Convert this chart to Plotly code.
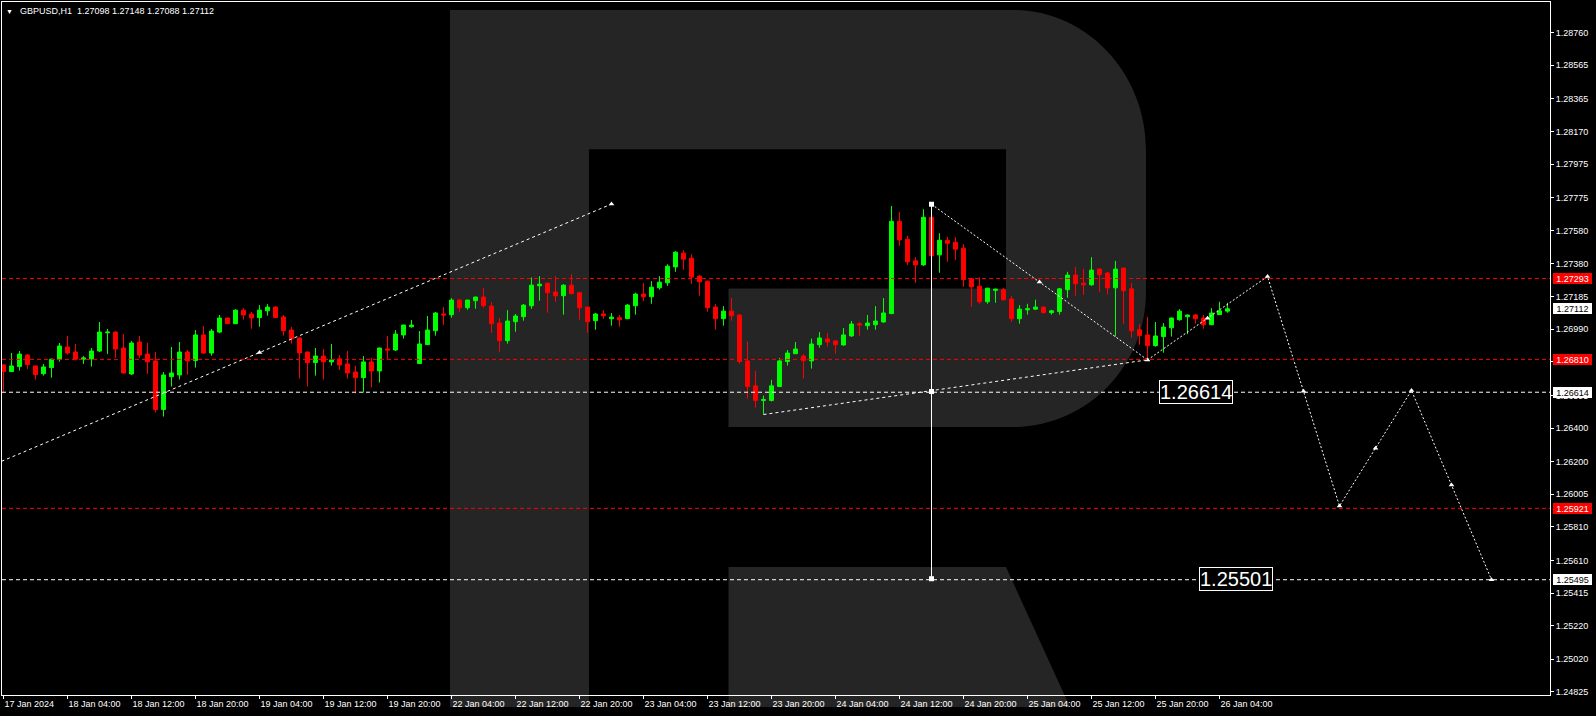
import plotly.graph_objects as go
import numpy as np

# ---------------- data ----------------
open_ = [1.26777, 1.26737, 1.26767, 1.26836, 1.26771, 1.26725, 1.26761, 1.26811, 1.26884, 1.26854,
         1.26811, 1.26813, 1.26860, 1.26969, 1.26973, 1.26878, 1.26723, 1.26914, 1.26842, 1.26801,
         1.26511, 1.26707, 1.26717, 1.26854, 1.26803, 1.26956, 1.26848, 1.26973, 1.27057, 1.27023,
         1.27104, 1.27081, 1.27059, 1.27100, 1.27122, 1.27063, 1.26985, 1.26938, 1.26854, 1.26791,
         1.26830, 1.26795, 1.26813, 1.26783, 1.26735, 1.26701, 1.26795, 1.26741, 1.26872, 1.26866,
         1.26956, 1.27005, 1.26785, 1.26898, 1.26981, 1.27081, 1.27077, 1.27164, 1.27118, 1.27160,
         1.27182, 1.27128, 1.27027, 1.26922, 1.27035, 1.27065, 1.27130, 1.27249, 1.27265, 1.27212,
         1.27190, 1.27253, 1.27208, 1.27122, 1.27041, 1.27081, 1.27053, 1.27059, 1.27053, 1.27130,
         1.27200, 1.27184, 1.27237, 1.27267, 1.27362, 1.27444, 1.27414, 1.27307, 1.27277, 1.27122,
         1.27053, 1.27098, 1.27075, 1.26801, 1.26652, 1.26565, 1.26565, 1.26648, 1.26797, 1.26844,
         1.26830, 1.26801, 1.26898, 1.26932, 1.26920, 1.26896, 1.26950, 1.27023, 1.27011, 1.27017,
         1.27033, 1.27083, 1.27634, 1.27527, 1.27398, 1.27374, 1.27658, 1.27434, 1.27521, 1.27509,
         1.27474, 1.27291, 1.27247, 1.27154, 1.27222, 1.27226, 1.27170, 1.27053, 1.27106, 1.27110,
         1.27122, 1.27089, 1.27096, 1.27226, 1.27313, 1.27265, 1.27255, 1.27349, 1.27325, 1.27237,
         1.27355, 1.27231, 1.26987, 1.26956, 1.26892, 1.26946, 1.26999, 1.27047, 1.27065, 1.27075,
         1.27057, 1.27017, 1.27077, 1.27098]
high = [1.26782, 1.26848, 1.26860, 1.26842, 1.26773, 1.26783, 1.26815, 1.26908, 1.26950, 1.26902,
        1.26830, 1.26878, 1.27033, 1.26991, 1.26979, 1.26961, 1.26920, 1.26950, 1.26908, 1.26854,
        1.26735, 1.26884, 1.26914, 1.26866, 1.26985, 1.27009, 1.26991, 1.27075, 1.27059, 1.27110,
        1.27116, 1.27093, 1.27134, 1.27140, 1.27128, 1.27075, 1.27003, 1.26940, 1.26856, 1.26878,
        1.26872, 1.26902, 1.26836, 1.26860, 1.26771, 1.26830, 1.26819, 1.26880, 1.26950, 1.26985,
        1.27017, 1.27045, 1.26979, 1.27069, 1.27093, 1.27122, 1.27176, 1.27170, 1.27166, 1.27184,
        1.27235, 1.27152, 1.27057, 1.27104, 1.27081, 1.27140, 1.27299, 1.27307, 1.27267, 1.27307,
        1.27259, 1.27319, 1.27214, 1.27124, 1.27087, 1.27104, 1.27087, 1.27075, 1.27140, 1.27208,
        1.27265, 1.27277, 1.27307, 1.27378, 1.27456, 1.27462, 1.27438, 1.27313, 1.27279, 1.27140,
        1.27128, 1.27176, 1.27077, 1.26916, 1.26741, 1.26594, 1.26688, 1.26819, 1.26866, 1.26914,
        1.26842, 1.26934, 1.26973, 1.26967, 1.26922, 1.26997, 1.27039, 1.27033, 1.27075, 1.27128,
        1.27176, 1.27726, 1.27688, 1.27547, 1.27420, 1.27706, 1.27736, 1.27563, 1.27541, 1.27539,
        1.27497, 1.27293, 1.27299, 1.27237, 1.27231, 1.27237, 1.27188, 1.27134, 1.27142, 1.27166,
        1.27124, 1.27106, 1.27237, 1.27333, 1.27362, 1.27349, 1.27420, 1.27351, 1.27333, 1.27398,
        1.27357, 1.27265, 1.27021, 1.27063, 1.27033, 1.27027, 1.27059, 1.27110, 1.27077, 1.27081,
        1.27075, 1.27116, 1.27154, 1.27148]
low = [1.26618, 1.26735, 1.26743, 1.26753, 1.26690, 1.26713, 1.26701, 1.26797, 1.26838, 1.26803,
       1.26783, 1.26767, 1.26854, 1.26842, 1.26819, 1.26725, 1.26717, 1.26819, 1.26723, 1.26493,
       1.26469, 1.26648, 1.26690, 1.26719, 1.26761, 1.26842, 1.26832, 1.26967, 1.27021, 1.27021,
       1.27047, 1.26993, 1.27005, 1.27071, 1.27057, 1.26952, 1.26904, 1.26696, 1.26648, 1.26713,
       1.26690, 1.26773, 1.26747, 1.26696, 1.26606, 1.26612, 1.26642, 1.26672, 1.26813, 1.26860,
       1.26934, 1.26999, 1.26783, 1.26896, 1.26952, 1.27017, 1.27059, 1.27095, 1.27106, 1.27112,
       1.27118, 1.26969, 1.26856, 1.26904, 1.26975, 1.27041, 1.27112, 1.27160, 1.27089, 1.27154,
       1.27077, 1.27200, 1.27047, 1.26969, 1.26987, 1.27053, 1.27011, 1.27005, 1.27051, 1.27077,
       1.27158, 1.27142, 1.27226, 1.27249, 1.27333, 1.27345, 1.27261, 1.27190, 1.27095, 1.26987,
       1.27011, 1.27041, 1.26785, 1.26576, 1.26523, 1.26481, 1.26559, 1.26646, 1.26773, 1.26842,
       1.26696, 1.26755, 1.26880, 1.26886, 1.26844, 1.26892, 1.26944, 1.26950, 1.26987, 1.26987,
       1.27029, 1.27081, 1.27488, 1.27374, 1.27267, 1.27368, 1.27400, 1.27327, 1.27392, 1.27404,
       1.27243, 1.27124, 1.27142, 1.27142, 1.27148, 1.27160, 1.27035, 1.27023, 1.27077, 1.27106,
       1.27083, 1.27077, 1.27077, 1.27178, 1.27190, 1.27196, 1.27249, 1.27214, 1.27198, 1.26946,
       1.27023, 1.26940, 1.26898, 1.26813, 1.26886, 1.26850, 1.26946, 1.27041, 1.26961, 1.27023,
       1.26993, 1.27015, 1.27075, 1.27088]
close = [1.26737, 1.26771, 1.26842, 1.26779, 1.26719, 1.26765, 1.26811, 1.26890, 1.26848, 1.26811,
         1.26819, 1.26860, 1.26973, 1.26973, 1.26872, 1.26729, 1.26908, 1.26836, 1.26795, 1.26511,
         1.26717, 1.26729, 1.26854, 1.26801, 1.26956, 1.26848, 1.26979, 1.27057, 1.27023, 1.27104,
         1.27075, 1.27057, 1.27104, 1.27122, 1.27059, 1.26981, 1.26932, 1.26848, 1.26791, 1.26830,
         1.26795, 1.26807, 1.26777, 1.26729, 1.26701, 1.26795, 1.26741, 1.26878, 1.26866, 1.26961,
         1.27015, 1.27015, 1.26902, 1.26985, 1.27087, 1.27075, 1.27164, 1.27118, 1.27164, 1.27182,
         1.27130, 1.27023, 1.26922, 1.27039, 1.27069, 1.27134, 1.27253, 1.27259, 1.27208, 1.27190,
         1.27253, 1.27202, 1.27118, 1.27035, 1.27081, 1.27071, 1.27063, 1.27047, 1.27134, 1.27200,
         1.27184, 1.27241, 1.27271, 1.27366, 1.27450, 1.27408, 1.27301, 1.27273, 1.27118, 1.27053,
         1.27098, 1.27071, 1.26797, 1.26648, 1.26565, 1.26570, 1.26652, 1.26801, 1.26848, 1.26872,
         1.26803, 1.26902, 1.26938, 1.26914, 1.26898, 1.26956, 1.27021, 1.27015, 1.27027, 1.27039,
         1.27087, 1.27634, 1.27523, 1.27392, 1.27374, 1.27658, 1.27428, 1.27521, 1.27503, 1.27468,
         1.27287, 1.27243, 1.27154, 1.27235, 1.27229, 1.27166, 1.27053, 1.27110, 1.27112, 1.27122,
         1.27089, 1.27100, 1.27231, 1.27313, 1.27261, 1.27255, 1.27343, 1.27315, 1.27237, 1.27349,
         1.27220, 1.26981, 1.26952, 1.26892, 1.26950, 1.27003, 1.27057, 1.27098, 1.27075, 1.27053,
         1.27017, 1.27087, 1.27100, 1.27112]

time_tick_bars = [0, 8, 16, 24, 32, 40, 48, 56, 64, 72, 80, 88, 96, 104, 112, 120, 128, 136, 144, 152]
time_tick_labels = ["17 Jan 2024", "18 Jan 04:00", "18 Jan 12:00", "18 Jan 20:00", "19 Jan 04:00",
                    "19 Jan 12:00", "19 Jan 20:00", "22 Jan 04:00", "22 Jan 12:00", "22 Jan 20:00",
                    "23 Jan 04:00", "23 Jan 12:00", "23 Jan 20:00", "24 Jan 04:00", "24 Jan 12:00",
                    "24 Jan 20:00", "25 Jan 04:00", "25 Jan 12:00", "25 Jan 20:00", "26 Jan 04:00"]

price_ticks = [1.24825, 1.25020, 1.25220, 1.25415, 1.25610, 1.25810, 1.26005, 1.26200, 1.26400,
               1.26595, 1.26795, 1.26990, 1.27185, 1.27380, 1.27580, 1.27775, 1.27975, 1.28170,
               1.28365, 1.28565, 1.28760]

red_levels = [1.27293, 1.26810, 1.25921]
white_levels = [1.26614, 1.25495]
last_price = 1.27112
title_text = "GBPUSD,H1  1.27098 1.27148 1.27088 1.27112"

# drawn analysis objects (bar index, price)
trend1_x = [-12, 76]
trend1_y = [1.25965, 1.27737]
trend_low_x = [95, 143]
trend_low_y = [1.26481, 1.26807]
trend_down_x = [116, 143]
trend_down_y = [1.27736, 1.26807]
forecast_x = [143, 158, 167, 176, 186]
forecast_y = [1.26807, 1.27305, 1.25935, 1.26625, 1.25495]
vline_x = 116
vline_y = [1.27736, 1.25501]
box_labels = [(149.1, 1.26614, "1.26614"), (154.1, 1.25501, "1.25501")]

# ---------------- styling ----------------
FONT = "Liberation Sans, Arial, sans-serif"
GREEN = "#00FF00"
RED = "#FF0000"
WM = "#252525"
W, H = 1596, 716
ML, MR, MT, MB = 2, 46, 2, 21
PW, PH = W - ML - MR, H - MT - MB
x_range = [-0.1875, 193.3125]
y_range = [1.24807, 1.28943]

def px(xp):
    return (xp - ML) / PW

def py(yp):
    return (H - MB - yp) / PH

fig = go.Figure()

fig.add_trace(go.Candlestick(
    x=list(range(len(open_))), open=open_, high=high, low=low, close=close,
    increasing=dict(line=dict(color=GREEN, width=1), fillcolor=GREEN),
    decreasing=dict(line=dict(color=RED, width=1), fillcolor=RED),
    whiskerwidth=0, hoverinfo="skip", showlegend=False))

def seg(xs, ys, dash, mids=True):
    fig.add_trace(go.Scatter(x=xs, y=ys, mode="lines", line=dict(color="white", width=1, dash=dash),
                             hoverinfo="skip", showlegend=False))
    mx = [(xs[i] + xs[i + 1]) / 2 for i in range(len(xs) - 1)] if mids else []
    my = [(ys[i] + ys[i + 1]) / 2 for i in range(len(ys) - 1)] if mids else []
    fig.add_trace(go.Scatter(x=mx + [xs[-1]] + xs[1:-1], y=my + [ys[-1]] + ys[1:-1], mode="markers",
                             marker=dict(symbol="triangle-up", size=5, color="white"),
                             hoverinfo="skip", showlegend=False))

seg(trend1_x, trend1_y, "3px,3px")
fig.add_trace(go.Scatter(x=trend_low_x, y=trend_low_y, mode="lines",
                         line=dict(color="white", width=1, dash="3px,3px"), hoverinfo="skip", showlegend=False))
seg(trend_down_x, trend_down_y, "2px,2px")
seg(forecast_x, forecast_y, "2px,2px")

fig.add_trace(go.Scatter(x=[vline_x, vline_x], y=vline_y, mode="lines", line=dict(color="white", width=1),
                         hoverinfo="skip", showlegend=False))
fig.add_trace(go.Scatter(x=[vline_x] * 3, y=[vline_y[0], float(np.mean(vline_y)), vline_y[1]], mode="markers",
                         marker=dict(symbol="square", size=5, color="white"), hoverinfo="skip", showlegend=False))

shapes = []
for lv in red_levels:
    shapes.append(dict(type="line", xref="paper", x0=0, x1=1, yref="y", y0=lv, y1=lv,
                       line=dict(color=RED, width=1, dash="4px,3px")))
for lv in white_levels:
    shapes.append(dict(type="line", xref="paper", x0=0, x1=1, yref="y", y0=lv, y1=lv,
                       line=dict(color="white", width=1, dash="4px,3px")))

# watermark "R" logo (decoration)
k = 0.5523
wm_path = (f"M {px(450)},{py(10)} L {px(1013)},{py(10)} "
           f"C {px(1013 + k * 133)},{py(10)} {px(1146)},{py(150 - k * 140)} {px(1146)},{py(150)} "
           f"L {px(1146)},{py(292)} "
           f"C {px(1146)},{py(292 + k * 135)} {px(1013 + k * 133)},{py(427)} {px(1013)},{py(427)} "
           f"L {px(728.5)},{py(427)} L {px(728.5)},{py(288.6)} L {px(1006)},{py(288.6)} "
           f"L {px(1006)},{py(149.3)} L {px(589)},{py(149.3)} L {px(589)},{py(707)} L {px(450)},{py(707)} Z")
leg_path = (f"M {px(728.5)},{py(567)} L {px(1006)},{py(567)} L {px(1070)},{py(707)} "
            f"L {px(728.5)},{py(707)} Z")
for p in (wm_path, leg_path):
    shapes.append(dict(type="path", xref="paper", yref="paper", path=p, fillcolor=WM,
                       line=dict(width=0), layer="below"))

annotations = []
for lv, bg, fg in [(red_levels[0], RED, "white"), (last_price, "white", "black"),
                   (red_levels[1], RED, "white"), (white_levels[0], "white", "black"),
                   (red_levels[2], RED, "white"), (white_levels[1], "white", "black")]:
    annotations.append(dict(x=1, xref="paper", xanchor="left", xshift=3, y=lv, yref="y",
                            text=f"{lv:.5f}", showarrow=False, bgcolor=bg, borderpad=0, borderwidth=0,
                            width=39, height=11, font=dict(color=fg, size=9, family=FONT)))
for bx, by, bt in box_labels:
    annotations.append(dict(x=bx, y=by, xref="x", yref="y", text=bt, showarrow=False,
                            bgcolor="black", bordercolor="white", borderwidth=1, borderpad=0,
                            height=22, font=dict(color="white", size=20, family=FONT)))
annotations.append(dict(x=px(18), y=py(11), xref="paper", yref="paper", xanchor="left", yanchor="middle",
                        text=title_text, showarrow=False, font=dict(color="white", size=9, family=FONT)))
annotations.append(dict(x=px(9), y=py(11), xref="paper", yref="paper", xanchor="center", yanchor="middle",
                        text="▼", showarrow=False, font=dict(color="white", size=7, family=FONT)))

fig.update_layout(
    width=W, height=H, margin=dict(l=ML, r=MR, t=MT, b=MB, pad=0),
    paper_bgcolor="black", plot_bgcolor="black", showlegend=False,
    font=dict(family=FONT, size=9, color="white"),
    shapes=shapes, annotations=annotations, dragmode=False,
    xaxis=dict(range=x_range, showgrid=False, zeroline=False, showline=True, mirror=True,
               linecolor="white", linewidth=1, ticks="outside", ticklen=3, tickcolor="white",
               tickvals=time_tick_bars, ticktext=time_tick_labels, ticklabelposition="outside right",
               tickfont=dict(size=9, color="white", family=FONT), rangeslider=dict(visible=False),
               fixedrange=True),
    yaxis=dict(range=y_range, side="right", showgrid=False, zeroline=False, showline=True, mirror=True,
               linecolor="white", linewidth=1, ticks="outside", ticklen=3, tickcolor="white",
               tickvals=price_ticks, ticktext=[f"{v:.5f}" for v in price_ticks],
               tickfont=dict(size=9, color="white", family=FONT), fixedrange=True),
)

fig.write_html("out.html", config={"displayModeBar": False},
               post_script="document.body.style.margin='0px';document.body.style.overflow='hidden';"
                           "document.body.style.background='black';")
